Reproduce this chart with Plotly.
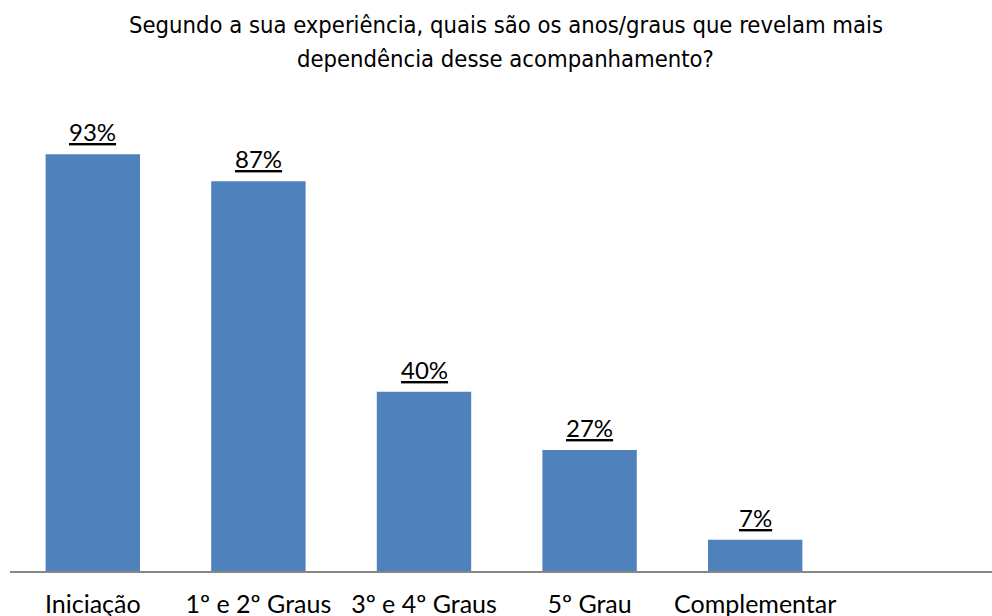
import plotly.graph_objects as go

categories = ["Iniciação", "1º e 2º Graus", "3º e 4º Graus", "5º Grau", "Complementar"]
values = [93, 87, 40, 27, 7]
labels = ["93%", "87%", "40%", "27%", "7%"]
title_lines = [
    "Segundo a sua experiência, quais são os anos/graus que revelam mais",
    "dependência desse acompanhamento?",
]

LABEL_FONT = "Lato, Carlito, sans-serif"
TITLE_FONT = "DejaVu Sans Condensed, Roboto, sans-serif"

fig = go.Figure()
fig.add_trace(go.Bar(
    x=categories,
    y=values,
    marker=dict(color="#4F81BD", line=dict(width=0)),
    width=0.57,
    hoverinfo="skip",
))

for c, v, t in zip(categories, values, labels):
    fig.add_annotation(
        x=c, y=v, text="<u>" + t + "</u>", showarrow=False,
        xanchor="center", yanchor="bottom", yshift=6,
        font=dict(family=LABEL_FONT, size=24, color="#000000"),
    )

# title lines placed above plot area (paper coords; plot area spans 448 px)
for i, line in enumerate(title_lines):
    fig.add_annotation(
        xref="paper", yref="paper", x=0.505, y=1.0, yshift=98 - 34 * i,
        text=line, showarrow=False, xanchor="center", yanchor="middle",
        font=dict(family=TITLE_FONT, size=23.6, color="#000000"),
    )

fig.update_layout(
    width=992, height=616,
    paper_bgcolor="white", plot_bgcolor="white",
    margin=dict(l=10, r=0, t=123, b=45, autoexpand=False),
    showlegend=False,
    xaxis=dict(
        type="category",
        range=[-0.5, 5.43],
        showgrid=False, zeroline=False,
        showline=True, linecolor="#868686", linewidth=1.5,
        ticks="", ticklabelstandoff=10, automargin=False,
        tickfont=dict(family=LABEL_FONT, size=25, color="#000000"),
    ),
    yaxis=dict(range=[0, 100], visible=False),
)

fig.write_html("out.html", config={"displayModeBar": False},
               post_script="document.body.style.margin='0';")
